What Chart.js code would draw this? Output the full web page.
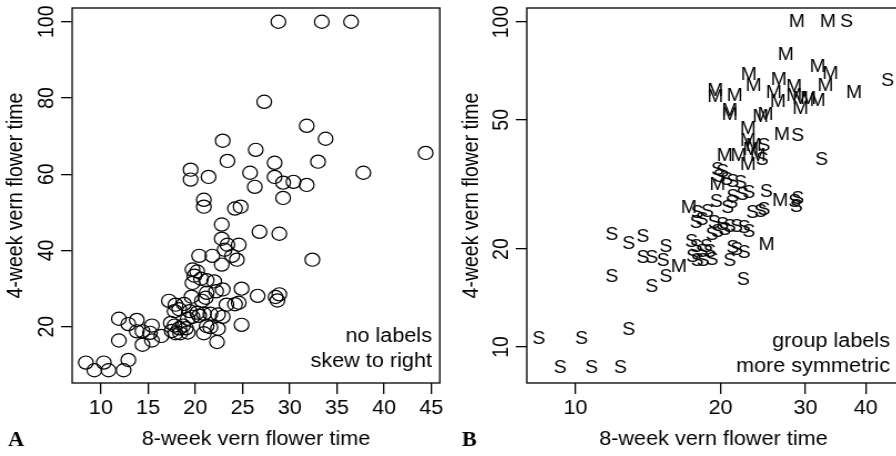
<!DOCTYPE html>
<html>
<head>
<meta charset="utf-8">
<script src="https://cdn.jsdelivr.net/npm/chart.js@4"></script>
<style>
html, body { margin:0; padding:0; background:#fff; overflow:hidden; width:896px; height:456px; }
#wrap { position:relative; width:896px; height:456px; overflow:hidden; }
canvas { position:absolute; top:0; transform-origin:0 0; transform:scaleX(1.11); }
#ca { left:0; }
#cb { left:448px; }
</style>
</head>
<body>
<div id="wrap">
<canvas id="ca" width="404" height="456"></canvas>
<canvas id="cb" width="412" height="456"></canvas>
</div>
<script>
// 8-week vernalisation flower time (x) / 4-week (y) / group label
var vernX8 = [
	28.8,33.4,36.5,27.3,31.8,33.8,22.9,26.4,44.4,23.4,28.4,33.0,25.8,19.5,19.5,37.8,21.4,26.3,28.4,29.3,
	30.4,31.8,29.3,20.9,20.9,24.2,24.8,22.8,26.8,28.9,22.8,23.4,24.6,23.1,32.4,24.4,23.9,20.4,21.8,22.8,
	19.7,20.2,19.9,20.6,21.2,22.0,19.7,21.2,22.2,24.9,22.9,26.6,28.5,28.9,28.7,24.6,17.2,17.9,18.8,17.8,
	18.3,20.7,23.3,24.2,19.4,20.2,20.9,21.6,22.4,19.7,20.4,19.2,22.9,19.6,21.1,
	17.4,17.8,18.3,18.7,19.0,17.5,17.9,18.4,19.2,20.9,21.2,21.6,22.4,24.9,22.3,
	11.9,12.9,13.8,11.9,13.8,14.4,15.4,15.2,16.4,14.4,15.4,8.4,9.3,10.3,10.8,12.4,12.9
];
var vernY4 = [
	100,100,100,79.0,72.7,69.3,68.8,66.4,65.6,63.5,63.0,63.3,60.4,61.2,58.6,60.4,59.3,56.7,59.3,57.8,
	58.0,57.2,53.8,53.3,51.5,51.0,51.5,46.8,44.9,44.4,43.1,41.5,41.5,40.2,37.6,37.6,38.6,38.6,38.6,36.3,
	35.0,34.5,33.4,32.6,32.2,31.9,31.5,28.9,29.3,30.0,29.8,28.1,27.8,28.5,26.9,26.3,26.8,25.8,26.0,24.1,
	24.6,26.8,25.8,25.9,24.1,23.7,23.4,23.4,23.2,22.6,22.9,22.1,22.6,27.9,27.6,
	21.0,20.3,19.6,20.3,19.6,18.9,18.3,18.3,18.5,18.3,20.2,19.9,19.5,20.5,16.0,
	22.1,20.7,21.8,16.4,18.8,18.8,20.3,18.4,17.6,15.3,16.4,10.6,8.6,10.6,8.6,8.6,11.3
];
var flowerGroup = [
	'M','M','S','M','M','M','M','M','S','M','M','M','M','M','M','M','M','M','M','M',
	'M','M','M','M','M','M','M','M','M','S','M','M','S','M','S','S','M','M','M','M',
	'S','S','S','S','S','S','M','S','S','S','S','M','S','S','S','S','M','S','S','S',
	'S','S','S','S','S','S','S','S','S','S','S','S','S','S','S',
	'S','S','S','S','S','S','S','S','S','S','S','S','S','M','S',
	'S','S','S','S','S','S','S','S','M','S','S','S','S','S','S','S','S'
];

var aXTicks = [10, 15, 20, 25, 30, 35, 40, 45];
var aYTicks = [20, 40, 60, 80, 100];
var bXTicks = [10, 20, 30, 40];
var bYTicks = [10, 20, 50, 100];

var xTitle = '8-week vern flower time';
var yTitle = '4-week vern flower time';
var notesA = ['no labels', 'skew to right'];
var notesB = ['group labels', 'more symmetric'];

var FONT = '"Liberation Sans", Arial, Helvetica, sans-serif';
var FSIZE = 19.5;

var points = vernX8.map(function(x, i) { return { x: x, y: vernY4[i] }; });

var framePlugin = {
	id: 'frame',
	afterDraw: function(chart, args, opts) {
		var ctx = chart.ctx, a = chart.chartArea, ys = chart.scales.y;
		ctx.save();
		ctx.strokeStyle = '#000';
		ctx.lineWidth = 1.3;
		ctx.strokeRect(a.left, a.top, a.right - a.left, a.bottom - a.top);

		ctx.fillStyle = '#000';
		ctx.font = FSIZE + 'px ' + FONT;
		ctx.textAlign = 'center';
		ctx.textBaseline = 'middle';
		ys.ticks.forEach(function(t) {
			ctx.save();
			ctx.translate(a.left - opts.labelGap, ys.getPixelForValue(t.value));
			ctx.rotate(-Math.PI / 2);
			ctx.fillText(String(t.value), 0, 0);
			ctx.restore();
		});

		ctx.textAlign = 'right';
		ctx.textBaseline = 'alphabetic';
		opts.notes.forEach(function(line, i) {
			ctx.fillText(line, opts.noteX, opts.noteY + i * 25);
		});

		ctx.font = 'bold 20px "Liberation Serif", "Times New Roman", serif';
		ctx.textAlign = 'left';
		ctx.fillText(opts.letter, opts.letterX, 446);
		ctx.restore();
	}
};

var letterPlugin = {
	id: 'letters',
	afterDatasetsDraw: function(chart) {
		if (!chart.options.plugins.letters.on) return;
		var ctx = chart.ctx;
		var meta = chart.getDatasetMeta(0);
		ctx.save();
		ctx.fillStyle = '#000';
		ctx.font = '17.5px ' + FONT;
		ctx.textAlign = 'center';
		ctx.textBaseline = 'middle';
		meta.data.forEach(function(el, i) {
			ctx.fillText(flowerGroup[i], el.x, el.y);
		});
		ctx.restore();
	}
};

function gridOpts(len) {
	return { display: true, drawOnChartArea: false, drawTicks: true, tickLength: len, color: '#000', lineWidth: 1.3 };
}

function axisFont() { return { family: FONT, size: FSIZE }; }

function makeScales(kind, xr, yr, xt, yt, yAxisW, yTitlePad) {
	return {
		x: {
			type: kind, min: xr[0], max: xr[1],
			afterBuildTicks: function(s) { s.ticks = xt.map(function(v) { return { value: v }; }); },
			afterFit: function(s) { s.height = 73; },
			grid: gridOpts(11),
			border: { display: false },
			ticks: { color: '#000', font: axisFont(), padding: 3, maxRotation: 0, autoSkip: false,
				callback: function(v) { return String(v); } },
			title: { display: true, text: xTitle, color: '#000', font: axisFont(), padding: { top: 0, bottom: 5 } }
		},
		y: {
			type: kind, min: yr[0], max: yr[1],
			afterBuildTicks: function(s) { s.ticks = yt.map(function(v) { return { value: v }; }); },
			afterFit: function(s) { s.width = yAxisW; },
			grid: gridOpts(10),
			border: { display: false },
			ticks: { display: false },
			title: { display: true, text: yTitle, color: '#000', font: axisFont(), padding: { top: yTitlePad, bottom: 0 } }
		}
	};
}

new Chart(document.getElementById('ca'), {
	type: 'scatter',
	data: { datasets: [{
		data: points,
		pointStyle: 'circle',
		pointRadius: 6.6,
		borderWidth: 1.2,
		borderColor: '#000',
		backgroundColor: 'rgba(0,0,0,0)'
	}] },
	options: {
		responsive: false,
		animation: false,
		events: [],
		layout: { padding: { left: 0, right: 1.3, top: 8, bottom: 0 } },
		scales: makeScales('linear', [6.95, 45.9], [5.25, 103.6], aXTicks, aYTicks, 65, 2.7),
		plugins: {
			legend: { display: false },
			tooltip: { enabled: false },
			letters: { on: false },
			frame: { labelGap: 22, notes: notesA, noteX: 389.2, noteY: 342, letter: 'A', letterX: 7.2 }
		}
	},
	plugins: [framePlugin, letterPlugin]
});

new Chart(document.getElementById('cb'), {
	type: 'scatter',
	data: { datasets: [{ data: points, pointRadius: 0 }] },
	options: {
		responsive: false,
		animation: false,
		events: [],
		layout: { padding: { left: 0, right: 4.8, top: 8, bottom: 0 } },
		scales: makeScales('logarithmic', [7.93, 47.1], [7.745, 110.4], bXTicks, bYTicks, 71, 10),
		plugins: {
			legend: { display: false },
			tooltip: { enabled: false },
			letters: { on: true },
			frame: { labelGap: 22, notes: notesB, noteX: 398.2, noteY: 346.5, letter: 'B', letterX: 12.6 }
		}
	},
	plugins: [framePlugin, letterPlugin]
});
</script>
</body>
</html>
